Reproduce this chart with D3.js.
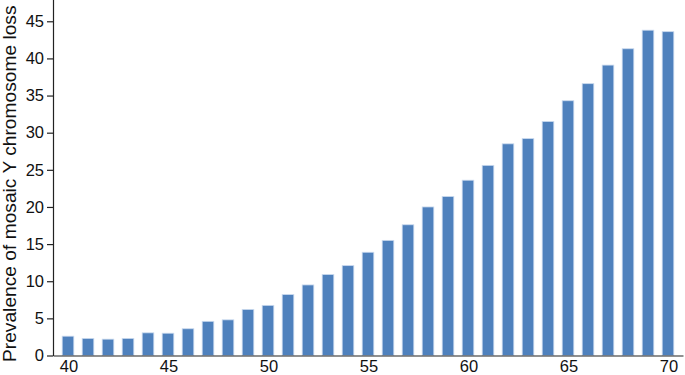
<html>
<head>
    <script src='https://d3js.org/d3.v7.min.js'></script>
    <style>
        body { margin: 0; background: #fff; }
        text { font-family: "Liberation Sans", Arial, sans-serif; }
        rect.bar { fill: #4f81bd; stroke: #c9d9ee; stroke-width: 0.8; }
    </style>
</head>
<body>
    <svg id="chart"></svg>
    <script>
        var ages = d3.range(40, 71);
        var prevalence = [2.6, 2.3, 2.2, 2.3, 3.05, 3.0, 3.6, 4.6, 4.8, 6.2,
                          6.75, 8.2, 9.5, 10.9, 12.1, 13.9, 15.5, 17.6, 20.0, 21.4,
                          23.6, 25.6, 28.5, 29.2, 31.5, 34.3, 36.6, 39.1, 41.3, 43.8, 43.6];
        var xTicks = [40, 45, 50, 55, 60, 65, 70];
        var yTicks = [0, 5, 10, 15, 20, 25, 30, 35, 40, 45];
        var yTitle = "Prevalence of mosaic Y chromosome loss";

        var width = 685, height = 375;
        var svg = d3.select("#chart").attr("width", width).attr("height", height);

        var x = d3.scaleBand().domain(ages).range([53, 683]).paddingInner(0.42).paddingOuter(0.46);
        var y = d3.scaleLinear().domain([0, 48]).range([355.5, -1]);

        svg.append("g")
            .selectAll("rect")
            .data(ages)
            .enter()
            .append("rect")
            .attr("class", "bar")
            .attr("x", function (d) { return x(d); })
            .attr("width", x.bandwidth())
            .attr("y", function (d, i) { return y(prevalence[i]); })
            .attr("height", function (d, i) { return y(0) - y(prevalence[i]); });

        var yAxis = svg.append("g")
            .attr("transform", "translate(53,0)")
            .call(d3.axisLeft(y).tickValues(yTicks).tickSize(6).tickSizeOuter(0).tickPadding(3));
        yAxis.selectAll("text").attr("font-size", 16.5).attr("fill", "#111");
        yAxis.selectAll("line, path").attr("stroke", "#222").attr("stroke-width", 1.2);

        var xAxis = svg.append("g")
            .attr("transform", "translate(0,355.5)")
            .call(d3.axisBottom(x).tickValues(xTicks).tickSize(0).tickSizeOuter(0).tickPadding(5));
        xAxis.selectAll("text").attr("font-size", 16.5).attr("fill", "#111").attr("dx", 1);
        xAxis.selectAll("line, path").attr("stroke", "#222").attr("stroke-width", 1.2);

        svg.append("text")
            .attr("transform", "translate(16,362) rotate(-90)")
            .attr("font-size", 19.2)
            .attr("fill", "#111")
            .text(yTitle);
    </script>
</body>
</html>
